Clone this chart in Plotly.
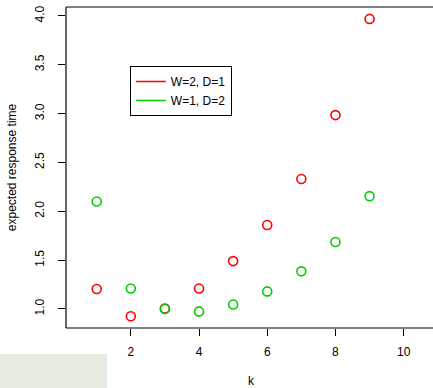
import plotly.graph_objects as go

k = [1, 2, 3, 4, 5, 6, 7, 8, 9]
red_vals = [1.205, 0.925, 1.005, 1.21, 1.49, 1.86, 2.33, 2.985, 3.97]
green_vals = [2.10, 1.21, 1.00, 0.975, 1.045, 1.18, 1.385, 1.685, 2.155]
series_names = ["W=2, D=1", "W=1, D=2"]
colors = ["#FF0000", "#00CD00"]
x_ticks = [2, 4, 6, 8, 10]
y_ticks = [1.0, 1.5, 2.0, 2.5, 3.0, 3.5, 4.0]
y_ticklabels = ["1.0", "1.5", "2.0", "2.5", "3.0", "3.5", "4.0"]

FONT = "Liberation Sans, Arial, Helvetica, sans-serif"

fig = go.Figure()
for vals, col in zip([red_vals, green_vals], colors):
    fig.add_trace(go.Scatter(
        x=k, y=vals, mode="markers", showlegend=False,
        marker=dict(symbol="circle-open", size=9, color=col, line=dict(width=1.6, color=col)),
    ))
for name, col in zip(series_names, colors):
    fig.add_trace(go.Scatter(
        x=[None], y=[None], mode="lines", name=name,
        line=dict(color=col, width=1.5),
    ))

line_style = dict(color="black", width=1.2)
black12 = dict(family=FONT, size=12, color="#000000")
fig.update_layout(
    template="none",
    width=433, height=388,
    margin=dict(l=66, r=0, t=7, b=60),
    paper_bgcolor="white", plot_bgcolor="white",
    font=black12,
    xaxis=dict(range=[0.1, 10.86], tickvals=x_ticks, ticks="outside", ticklen=7,
               tickcolor="black", tickwidth=1, showgrid=False, zeroline=False, showline=False,
               ticklabelstandoff=6, automargin=False, tickfont=black12),
    yaxis=dict(range=[0.805, 4.092], tickvals=y_ticks, ticktext=y_ticklabels,
               ticks="outside", ticklen=7, tickcolor="black", tickwidth=1, tickangle=-90,
               showgrid=False, zeroline=False, showline=False,
               ticklabelstandoff=9, automargin=False, tickfont=black12,
               title=dict(text="expected response time", standoff=14, font=black12)),
    legend=dict(x=0.174, y=0.816, xanchor="left", yanchor="top",
                bordercolor="black", borderwidth=1, bgcolor="white",
                font=black12, itemwidth=30, tracegroupgap=0),
    annotations=[
        dict(text="k", xref="paper", yref="paper", x=(251 - 66) / 367, y=-(381 - 328) / 321,
             xanchor="center", yanchor="middle", showarrow=False, font=black12),
    ],
    shapes=[
        dict(type="line", xref="paper", yref="paper", x0=0, x1=0, y0=0, y1=1, line=line_style),
        dict(type="line", xref="paper", yref="paper", x0=0, x1=1.01, y0=1, y1=1, line=line_style),
        dict(type="line", xref="paper", yref="paper", x0=0, x1=1.01, y0=0, y1=0, line=line_style),
        dict(type="rect", xref="paper", yref="paper", x0=-66/367, x1=41/367,
             y0=-60/321, y1=-26/321, fillcolor="#E5EAE1", line=dict(width=0), layer="below"),
    ],
)

fig.write_html("out.html", config={"displayModeBar": False},
               post_script="document.body.style.margin='0';document.body.style.overflow='hidden';")
